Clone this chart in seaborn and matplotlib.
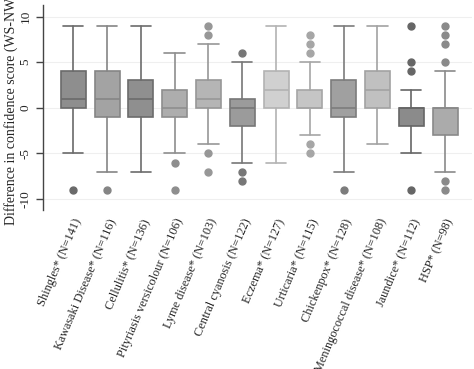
import matplotlib
matplotlib.use('Agg')
import matplotlib.pyplot as plt
import seaborn as sns

# box statistics
labels = ['Shingles* (N=141)', 'Kawasaki Disease* (N=116)', 'Cellulitis* (N=136)',
          'Pityriasis versicolour (N=106)', 'Lyme disease* (N=103)', 'Central cyanosis (N=122)',
          'Eczema* (N=127)', 'Urticaria* (N=115)', 'Chickenpox* (N=128)',
          'Meningococcal disease* (N=108)', 'Jaundice* (N=112)', 'HSP* (N=98)']
whis_lo = [-5, -7, -7, -5, -4, -6, -6, -3, -7, -4, -5, -7]
q1 = [0, -1, -1, -1, 0, -2, 0, 0, -1, 0, -2, -3]
median = [1, 1, 1, 0, 1, 0, 2, 0, 0, 2, 0, 0]
q3 = [4, 4, 3, 2, 3, 1, 4, 2, 3, 4, 0, 0]
whis_hi = [9, 9, 9, 6, 7, 5, 9, 5, 9, 9, 2, 4]
outliers = [[-9], [-9], [], [-6, -9], [9, 8, -5, -7], [6, -7, -8],
            [], [8, 7, 6, -4, -5], [-9], [], [9, 5, 4, -9], [9, 8, 7, 5, -8, -9]]

fills = ['#8e8e8e', '#a3a3a3', '#8f8f8f', '#adadad', '#b5b5b5', '#9b9b9b',
         '#d0d0d0', '#c5c5c5', '#a0a0a0', '#c0c0c0', '#8b8b8b', '#ababab']
edges = ['#6a6a6a', '#858585', '#6c6c6c', '#8e8e8e', '#979797', '#777777',
         '#b3b3b3', '#a6a6a6', '#7c7c7c', '#a2a2a2', '#666666', '#8a8a8a']

sns.set_style('white')
plt.rcParams['font.family'] = ['Liberation Serif', 'DejaVu Serif']

fig = plt.figure(figsize=(4.74, 3.69), dpi=100)
ax = fig.add_axes([0.091, 0.431, 0.905, 0.556])

for i in range(len(labels)):
    st = [{'whislo': whis_lo[i], 'q1': q1[i], 'med': median[i], 'q3': q3[i],
           'whishi': whis_hi[i], 'fliers': outliers[i]}]
    ec = edges[i]
    ax.bxp(st, positions=[i], widths=0.74, capwidths=0.6, patch_artist=True,
           boxprops=dict(facecolor=fills[i], edgecolor=ec, linewidth=1.2),
           medianprops=dict(color=ec, linewidth=1.2),
           whiskerprops=dict(color=ec, linewidth=1.2),
           capprops=dict(color=ec, linewidth=1.2),
           flierprops=dict(marker='o', markerfacecolor=ec, markeredgecolor=ec,
                           markersize=5))

ax.set_xlim(-0.89, 11.8)
ax.set_ylim(-11.2, 11.3)
ax.set_yticks([-10, -5, 0, 5, 10])
ax.set_yticklabels(['-10', '-5', '0', '5', '10'], rotation=90, va='center')
ax.yaxis.grid(True, color='#efefef', linewidth=0.8)
ax.set_axisbelow(True)
ax.set_xticks(range(len(labels)))
ax.set_xticklabels(labels, rotation=67, ha='right', rotation_mode='anchor', fontsize=8.8)
ax.tick_params(axis='x', length=0, pad=5)
ax.tick_params(axis='y', length=5, width=1, color='#444444', labelsize=9.5, left=True)
for s in ['top', 'right', 'bottom']:
    ax.spines[s].set_visible(False)
ax.spines['left'].set_color('#444444')
ax.spines['left'].set_linewidth(1)
ax.set_ylabel('Difference in confidence score (WS-NWS)', fontsize=10)
ax.yaxis.set_label_coords(-0.058, 0.512)

fig.savefig('out.png', dpi=100)
